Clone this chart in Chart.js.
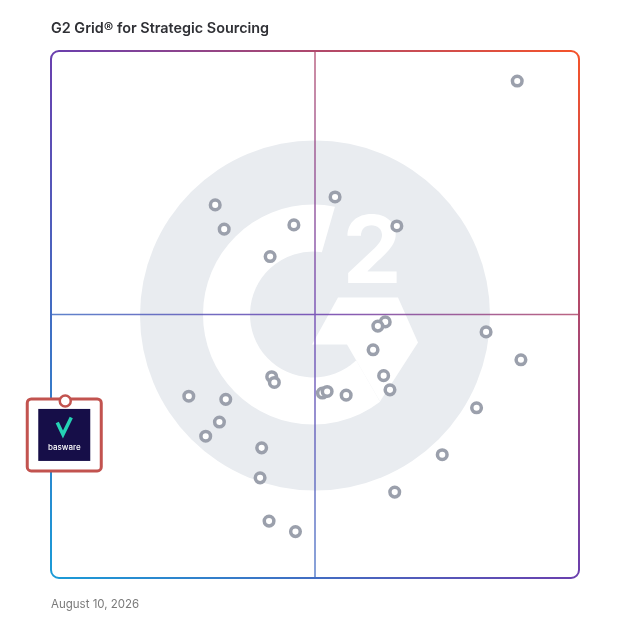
<!DOCTYPE html>
<html>
<head>
<meta charset="utf-8">
<script src="https://cdn.jsdelivr.net/npm/chart.js@4/dist/chart.umd.min.js"></script>
<style>
  body { margin: 0; background: #fff; }
  #wrap { position: relative; width: 628px; height: 628px; }
  #title { position: absolute; left: 51px; top: 19px; font: 600 14.4px Inter, sans-serif; color: #2f3035; }
  #date { position: absolute; left: 51px; top: 597px; font: 400 11.5px Inter, sans-serif; color: #7a7a7a; }
</style>
</head>
<body>
<div id="wrap">
  <canvas id="gridChart" width="628" height="628"></canvas>
  <div id="title">G2 Grid® for Strategic Sourcing</div>
  <div id="date">August 10, 2026</div>
</div>
<script>
// x = market presence, y = satisfaction (0-100, midlines at 50)
const productX = [88.3, 31.1, 32.8, 46.0, 53.8, 65.5, 41.5, 63.3, 61.9, 61.0,
                  82.4, 89.0, 63.0, 64.2, 41.8, 42.3, 51.4, 52.3, 55.9, 26.1,
                  33.1, 31.9, 29.3, 80.6, 39.9, 74.1, 39.6, 65.1, 41.3, 46.3];
const productY = [94.3, 70.8, 66.2, 67.0, 72.3, 66.8, 61.0, 48.6, 47.8, 43.3,
                  46.7, 41.4, 38.4, 35.7, 38.2, 37.1, 35.1, 35.4, 34.7, 34.5,
                  33.9, 29.6, 26.9, 32.3, 24.7, 23.4, 19.0, 16.3, 10.8, 8.8];
const highlightName = ['basware'];
const highlightX = [2.7];
const highlightY = [33.6];

const productPoints = productX.map((x, i) => ({x: x, y: productY[i]}));
const highlightPoints = highlightX.map((x, i) => ({x: x, y: highlightY[i]}));

function borderGradient(ctx, area){
  const g = ctx.createLinearGradient(area.left, area.bottom, area.right, area.top);
  g.addColorStop(0, '#1a9bd7');
  g.addColorStop(0.5, '#6a3fae');
  g.addColorStop(1, '#f5532a');
  return g;
}

const backdrop = {
  id: 'backdrop',
  beforeDatasetsDraw(chart){
    const {ctx, chartArea: a, scales} = chart;
    const cx = scales.x.getPixelForValue(50);
    const cy = scales.y.getPixelForValue(50);
    const s = a.width / 528;
    const rad = d => d * Math.PI / 180;
    ctx.save();
    // G2 watermark
    ctx.fillStyle = '#e9ecf0';
    ctx.beginPath();
    ctx.arc(cx, cy + 1*s, 175*s, 0, Math.PI*2);
    ctx.fill();
    ctx.fillStyle = '#fff';
    const ox = cx - 2*s;
    ctx.beginPath();
    ctx.arc(ox, cy, 110*s, rad(-78.5), rad(52.4), true);
    ctx.lineTo(ox + 44*s, cy + 47*s);
    ctx.arc(ox, cy, 63*s, rad(46.9), rad(-81.9), false);
    ctx.closePath();
    ctx.fill();
    const chev = [[23,-17],[83,-17],[103,28],[65,87],[32,30],[-3,30]];
    ctx.beginPath();
    chev.forEach(([dx, dy], i) => {
      const px = cx + dx*s, py = cy + dy*s;
      i ? ctx.lineTo(px, py) : ctx.moveTo(px, py);
    });
    ctx.closePath();
    ctx.fill();
    ctx.font = `700 ${Math.round(94*s)}px Inter, sans-serif`;
    ctx.textAlign = 'center';
    ctx.textBaseline = 'alphabetic';
    ctx.fillText('2', cx + 57*s, cy - 32*s);

    // quadrant lines
    ctx.strokeStyle = borderGradient(ctx, a);
    ctx.globalAlpha = 0.85;
    ctx.lineWidth = 1.5;
    ctx.beginPath();
    ctx.moveTo(cx, a.top); ctx.lineTo(cx, a.bottom);
    ctx.moveTo(a.left, cy); ctx.lineTo(a.right, cy);
    ctx.stroke();
    ctx.globalAlpha = 1;

    // frame
    ctx.lineWidth = 2;
    ctx.beginPath();
    ctx.roundRect(a.left, a.top, a.width, a.height, 8);
    ctx.stroke();
    ctx.restore();
  },
  afterDatasetsDraw(chart){
    const {ctx} = chart;
    const meta = chart.getDatasetMeta(1);
    meta.data.forEach((pt, i) => {
      const x = pt.x, y = pt.y;
      ctx.save();
      ctx.fillStyle = '#fff';
      ctx.strokeStyle = '#c2534f';
      ctx.lineWidth = 3;
      ctx.beginPath();
      ctx.roundRect(x - 38, y - 2, 74, 72, 4);
      ctx.fill();
      ctx.stroke();
      ctx.fillStyle = '#160e48';
      ctx.fillRect(x - 27, y + 8, 52, 52);
      ctx.strokeStyle = '#25d2b4';
      ctx.lineWidth = 3.5;
      ctx.lineJoin = 'miter';
      ctx.beginPath();
      ctx.moveTo(x - 8, y + 21.5);
      ctx.lineTo(x - 2.3, y + 33.5);
      ctx.lineTo(x + 6, y + 16.5);
      ctx.stroke();
      ctx.fillStyle = '#fff';
      ctx.font = '500 8px Inter, sans-serif';
      ctx.textAlign = 'center';
      ctx.textBaseline = 'middle';
      ctx.fillText(highlightName[i], x - 1, y + 47);
      // pin
      ctx.strokeStyle = '#c2534f';
      ctx.lineWidth = 2.5;
      ctx.beginPath();
      ctx.arc(x, y, 5.5, 0, Math.PI*2);
      ctx.fillStyle = '#fff';
      ctx.fill();
      ctx.stroke();
      ctx.restore();
    });
  }
};

new Chart(document.getElementById('gridChart'), {
  type: 'scatter',
  data: {
    datasets: [{
      label: 'Products',
      data: productPoints,
      pointRadius: 4.8,
      pointBorderWidth: 3.5,
      pointBorderColor: '#9ba0ac',
      pointBackgroundColor: '#ffffff'
    }, {
      label: 'Basware',
      data: highlightPoints,
      pointRadius: 0
    }]
  },
  options: {
    responsive: false,
    animation: false,
    layout: { padding: { left: 51, top: 51, right: 49, bottom: 50 } },
    scales: {
      x: { min: 0, max: 100, display: false },
      y: { min: 0, max: 100, display: false }
    },
    plugins: {
      legend: { display: false },
      tooltip: { enabled: false }
    }
  },
  plugins: [backdrop]
});
</script>
</body>
</html>
